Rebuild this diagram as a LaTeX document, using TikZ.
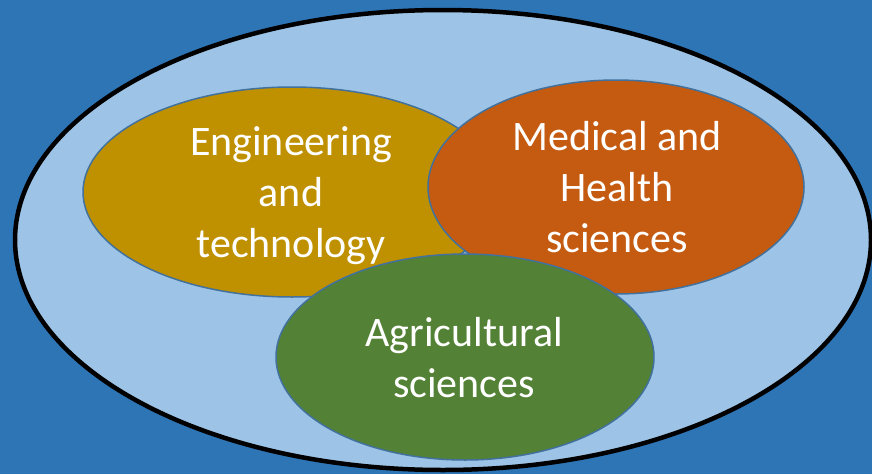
\documentclass[tikz,border=0pt]{standalone}
\usepackage{fontspec}
\setmainfont{Carlito}
\definecolor{bgblue}{HTML}{2E75B6}
\definecolor{lightblue}{HTML}{9DC3E6}
\definecolor{gold}{HTML}{BF9000}
\definecolor{rust}{HTML}{C55A11}
\definecolor{leaf}{HTML}{538135}
\definecolor{edgeblue}{HTML}{41719C}
\begin{document}
\begin{tikzpicture}[x=1pt,y=-1pt,
  field/.style={draw=edgeblue,line width=1.5pt},
  label/.style={text=white,font=\fontsize{42}{51}\selectfont,align=center,anchor=base,inner sep=0pt}]
\useasboundingbox (0,0) rectangle (872,474);
\fill[bgblue] (0,0) rectangle (872,474);
\draw[fill=lightblue,draw=black,line width=4.5pt] (443,240) ellipse [x radius=428, y radius=230];
\draw[field,fill=gold] (292,192) ellipse [x radius=209, y radius=105];
\draw[field,fill=rust] (616,187) ellipse [x radius=188, y radius=107];
\draw[field,fill=leaf] (465,357) ellipse [x radius=189, y radius=103];
\node[label] (eng) at (291,257) {Engineering\\and\\technology};
\node[label] (med) at (617,252) {Medical and\\Health\\sciences};
\node[label] (agr) at (464,397) {Agricultural\\sciences};
\end{tikzpicture}
\end{document}
